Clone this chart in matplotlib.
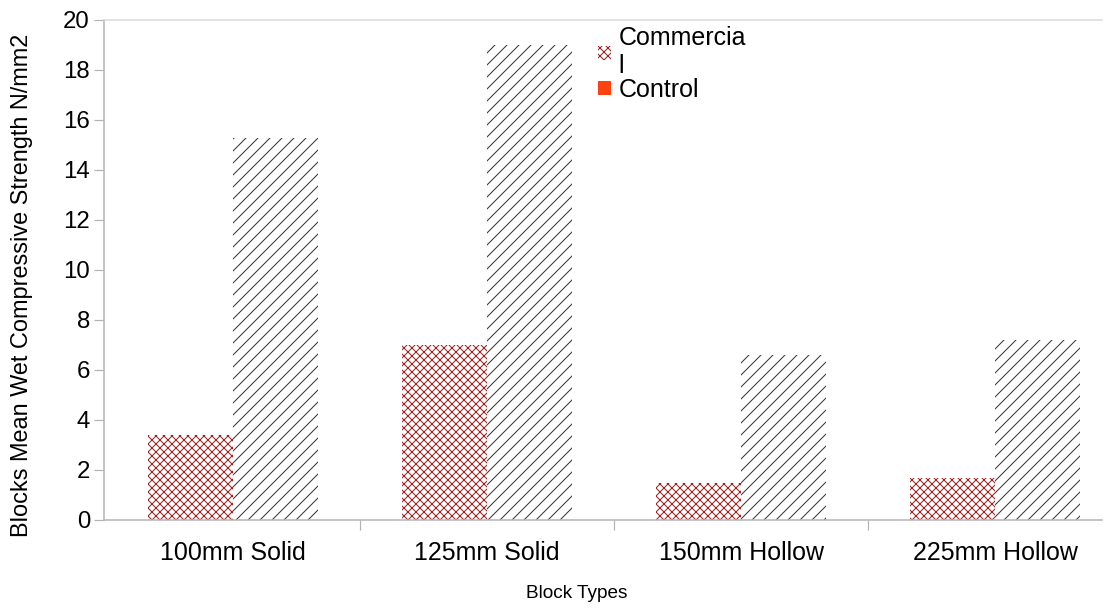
import numpy as np
import matplotlib
matplotlib.use("Agg")
import matplotlib.pyplot as plt
from matplotlib.patches import Patch

plt.rcParams['font.family'] = ['Liberation Sans', 'DejaVu Sans']
plt.rcParams['hatch.linewidth'] = 1.0

# Mean wet compressive strength per block type (N/mm2)
block_types = ['100mm Solid', '125mm Solid', '150mm Hollow', '225mm Hollow']
commercial = [3.4, 7.0, 1.5, 1.7]
control = [15.3, 19.0, 6.6, 7.2]

red_hatch = '#a01c1c'
control_legend = '#ff420e'
axis_grey = '#b3b3b3'

fig = plt.figure(figsize=(1115 / 72, 610 / 72), dpi=72)
ax = fig.add_axes([104 / 1115, 90 / 610, 998 / 1115, 500 / 610])

x = np.arange(len(block_types))
width = 0.335

ax.bar(x - width, commercial, width, align='edge', facecolor='white',
       edgecolor=red_hatch, hatch='xxx', linewidth=0)
ax.bar(x, control, width, align='edge', facecolor='white',
       edgecolor='#333333', hatch='//', linewidth=0)

ax.set_xlim(-0.508, 3.421)
ax.set_ylim(0, 20)
ax.set_yticks(np.arange(0, 21, 2))
ax.set_xticks(x)
ax.set_xticklabels(block_types)
ax.set_xticks([0.5, 1.5, 2.5], minor=True)

ax.tick_params(axis='y', length=10, width=1.2, color=axis_grey, labelsize=24, pad=4)
ax.tick_params(axis='x', which='major', length=0, labelsize=25, pad=21)
ax.tick_params(axis='x', which='minor', length=10, width=1.2, color=axis_grey)

for side in ['left', 'bottom']:
    ax.spines[side].set_color(axis_grey)
    ax.spines[side].set_linewidth(1.5)
ax.spines['top'].set_color('#d9d9d9')
ax.spines['top'].set_linewidth(1.5)
ax.spines['right'].set_visible(False)

ax.set_xlabel('Block Types', fontsize=19)
ax.xaxis.set_label_coords(0.474, -0.13)
ax.set_ylabel('Blocks Mean Wet Compressive Strength N/mm2', fontsize=23.5)
ax.yaxis.set_label_coords(-0.071, 0.47)

handles = [
    Patch(facecolor='white', edgecolor=red_hatch, hatch='xxx', linewidth=0),
    Patch(facecolor=control_legend, linewidth=0),
]
ax.legend(handles, ['Commercia\nl', 'Control'], loc='upper left',
          bbox_to_anchor=(0.479, 1.02), frameon=False, fontsize=25,
          handlelength=0.5, handleheight=0.5, handletextpad=0.3,
          labelspacing=0.0, borderpad=0.15)

fig.savefig('out.png', dpi=72)
